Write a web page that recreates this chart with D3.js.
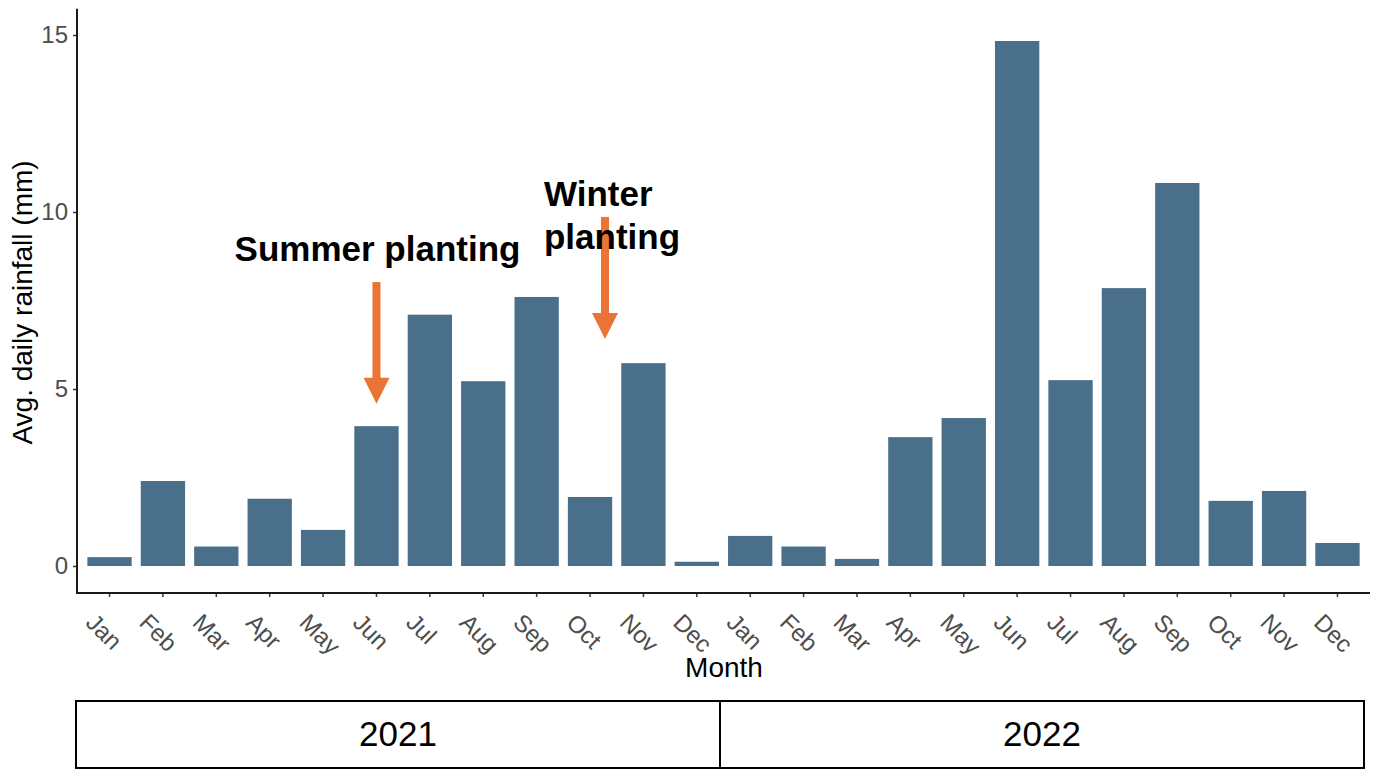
<!DOCTYPE html>
<html>
<head>
<meta charset="utf-8">
<script src="https://cdn.jsdelivr.net/npm/d3@7"></script>
<style>
  body { margin: 0; background: #fff; }
  text { font-family: "Liberation Sans", Arial, sans-serif; }
</style>
</head>
<body>
<div id="container"></div>
<script>
/* DATA */
const years = ["2021", "2022"];
const months = ["Jan", "Feb", "Mar", "Apr", "May", "Jun", "Jul", "Aug", "Sep", "Oct", "Nov", "Dec"];
const rain2021 = [0.25, 2.4, 0.55, 1.9, 1.02, 3.95, 7.1, 5.22, 7.6, 1.95, 5.73, 0.12];
const rain2022 = [0.85, 0.55, 0.2, 3.64, 4.18, 14.83, 5.25, 7.85, 10.82, 1.84, 2.12, 0.65];
const yTicks = [0, 5, 10, 15];

// annotations: label, month it points at (fractional offset), arrow start / tip in mm
const notes = [
  { label: ["Summer planting"], year: "2021", month: "Jun", offset: 0, from: 8.02, to: 4.58, anchor: "middle", dx: 1, textY: 8.62 },
  { label: ["Winter", "planting"], year: "2021", month: "Oct", offset: 0.28, from: 9.86, to: 6.41, anchor: "start", dx: -61, textY: 10.17 }
];

/* CONSTANTS */
const width = 1381, height = 770;
const barColor = "#4a6f8b", arrowColor = "#e97435";

const rows = [];
years.forEach((yr, i) => {
  const vals = i === 0 ? rain2021 : rain2022;
  months.forEach((m, j) => rows.push({ key: yr + "-" + m, year: yr, month: m, value: vals[j] }));
});

/* SCALES */
const xScale = d3.scaleBand()
  .domain(rows.map(d => d.key))
  .range([77.5, 1369.5])
  .paddingInner(0.17)
  .paddingOuter(0.185);

const yScale = d3.scaleLinear()
  .domain([0, 15])
  .range([566, 35]);

const yearScale = d3.scaleBand()
  .domain(years)
  .range([76, 1364]);

/* DRAW */
const svg = d3.select("#container")
  .append("svg")
  .attr("width", width)
  .attr("height", height);

// bars
svg.selectAll("rect.bar")
  .data(rows)
  .join("rect")
  .attr("class", "bar")
  .attr("x", d => xScale(d.key))
  .attr("width", xScale.bandwidth())
  .attr("y", d => yScale(d.value))
  .attr("height", d => yScale(0) - yScale(d.value))
  .attr("fill", barColor);

// y axis
const yAxis = d3.axisLeft(yScale)
  .tickValues(yTicks)
  .tickSize(4)
  .tickPadding(5);

const gy = svg.append("g")
  .attr("transform", "translate(77,0)")
  .call(yAxis);
gy.select(".domain").remove();
gy.append("line")
  .attr("x1", 0).attr("x2", 0)
  .attr("y1", yScale(15.74)).attr("y2", yScale(-0.76))
  .attr("stroke", "#1a1a1a").attr("stroke-width", 2);
gy.selectAll(".tick line").attr("stroke", "#333").attr("stroke-width", 1.5);
gy.selectAll(".tick text")
  .attr("fill", "#4d4d4d")
  .style("font-size", "24px");

// x axis
const xAxis = d3.axisBottom(xScale)
  .tickFormat(k => k.split("-")[1])
  .tickSize(4)
  .tickSizeOuter(0);

const gx = svg.append("g")
  .attr("transform", `translate(0,${yScale(-0.76)})`)
  .call(xAxis);
gx.select(".domain").remove();
gx.append("line")
  .attr("x1", 76).attr("x2", 1370)
  .attr("y1", 0).attr("y2", 0)
  .attr("stroke", "#1a1a1a").attr("stroke-width", 2);
gx.selectAll(".tick line").attr("stroke", "#333").attr("stroke-width", 1.5);
gx.selectAll(".tick text")
  .attr("fill", "#4d4d4d")
  .style("font-size", "24px")
  .attr("text-anchor", "start")
  .attr("dy", null)
  .attr("y", 0)
  .attr("transform", "translate(-25,31) rotate(45)");

// axis titles
svg.append("text")
  .attr("transform", `translate(32,${yScale(7.5) + 2}) rotate(-90)`)
  .attr("text-anchor", "middle")
  .style("font-size", "28px")
  .attr("fill", "#000")
  .text("Avg. daily rainfall (mm)");

svg.append("text")
  .attr("x", 724)
  .attr("y", 677)
  .attr("text-anchor", "middle")
  .style("font-size", "28px")
  .attr("fill", "#000")
  .text("Month");

// annotations
notes.forEach(n => {
  const cx = xScale(n.year + "-" + n.month) + xScale.bandwidth() / 2 + n.offset * xScale.step();
  const y0 = yScale(n.from), y1 = yScale(n.to);
  const headLen = 26, headHalf = 13, shaft = 8;
  svg.append("rect")
    .attr("x", cx - shaft / 2).attr("y", y0)
    .attr("width", shaft).attr("height", y1 - y0 - headLen + 1)
    .attr("fill", arrowColor);
  svg.append("path")
    .attr("d", `M${cx - headHalf},${y1 - headLen} L${cx + headHalf},${y1 - headLen} L${cx},${y1} Z`)
    .attr("fill", arrowColor);

  const t = svg.append("text")
    .attr("x", cx + n.dx)
    .attr("y", yScale(n.textY))
    .attr("text-anchor", n.anchor)
    .style("font-size", "35px")
    .style("font-weight", "bold")
    .attr("fill", "#000");
  n.label.forEach((line, i) => {
    t.append("tspan")
      .attr("x", cx + n.dx)
      .attr("dy", i === 0 ? 0 : 43)
      .text(line);
  });
});

// year strip
const strip = svg.append("g");
strip.selectAll("rect")
  .data(years)
  .join("rect")
  .attr("x", d => yearScale(d))
  .attr("y", 701)
  .attr("width", yearScale.bandwidth())
  .attr("height", 67)
  .attr("fill", "none")
  .attr("stroke", "#000")
  .attr("stroke-width", 2);
strip.selectAll("text")
  .data(years)
  .join("text")
  .attr("x", d => yearScale(d) + yearScale.bandwidth() / 2)
  .attr("y", 746)
  .attr("text-anchor", "middle")
  .style("font-size", "35px")
  .attr("fill", "#000")
  .text(d => d);
</script>
</body>
</html>
